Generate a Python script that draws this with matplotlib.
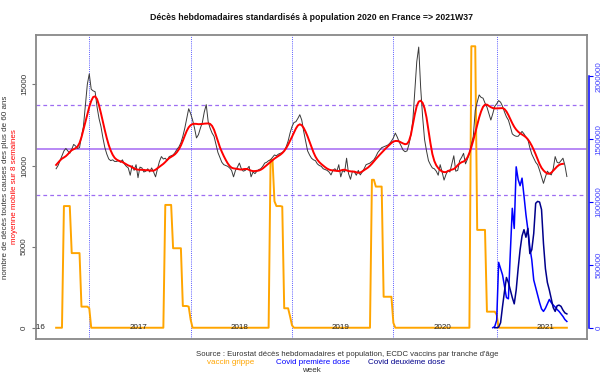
import numpy as np
import matplotlib
matplotlib.use("Agg")
import matplotlib.pyplot as plt
import pandas as pd

plt.rcParams['font.family'] = ['Liberation Sans', 'DejaVu Sans']

# --- DATA (weekly, 2016W36 -> 2021W37) ---
annees = [2016, 2017, 2018, 2019, 2020, 2021]

deces_2016 = [9800, 10000, 10300, 10600, 10900, 11050, 10900, 10750, 11000, 11300,
              11200, 11050, 11100, 11800, 12400, 13700, 15000]
deces_2017 = [15650, 14700, 14600, 14550, 13600, 12900, 12400, 11700, 11100, 10700,
              10400, 10300, 10350, 10250, 10250, 10300, 10200, 10350, 10100, 9950,
              9850, 9400, 10000, 9700, 10050, 9250, 9900, 9850, 9600, 9650,
              9800, 9600, 9850, 9600, 9300, 9800, 10250, 10550, 10400, 10450,
              10300, 10550, 10600, 10650, 10800, 11000, 11150, 11400, 11800, 12300,
              12900, 13500]
deces_2018 = [13200, 12800, 12300, 11700, 11900, 12300, 12650, 13300, 13750, 12700,
              12300, 12000, 11800, 11300, 10800, 10500, 10200, 10050, 10000, 9950,
              9850, 9700, 9300, 9700, 9900, 10150, 9800, 9650, 9700, 9800,
              9950, 9300, 9600, 9500, 9650, 9750, 9800, 9950, 10150, 10200,
              10300, 10350, 10500, 10650, 10600, 10700, 10750, 10800, 10900, 11150,
              11500, 12000]
deces_2019 = [12400, 12650, 12700, 12900, 13130, 12800, 12100, 11500, 10900, 10650,
              10450, 10350, 10300, 10100, 10000, 9950, 9800, 9750, 9700, 9600,
              9420, 9700, 9800, 9650, 10050, 9300, 9700, 9600, 10450, 9500,
              9150, 9650, 9600, 9400, 9700, 9420, 9600, 9800, 10050,
              10100, 10150, 10250, 10350, 10550, 10800, 10950, 11100, 11150, 11200,
              11250, 11350, 11500]
deces_2020 = [11700, 12000, 11750, 11450, 11200, 10950, 10850, 10900, 11300, 11900,
              12800, 14600, 16400, 17300, 14800, 13000, 11600, 10900, 10300, 10050,
              9850, 9800, 9650, 9400, 10050, 9600, 9100, 9450, 9700, 9600,
              10100, 10600, 9650, 9700, 10300, 10500, 10750, 10100, 10400, 10750,
              11300, 11800, 13400, 13900, 14350, 14200, 14150, 13850, 13600, 13200,
              12800, 13200, 13650]
deces_2021 = [13800, 14000, 13900, 13650, 13300, 13000, 12800, 12400, 11950, 11850,
              11800, 11800, 11950, 12100, 11950, 11750, 11600, 11100, 10700, 10450,
              10200, 10050, 9700, 9300, 8900, 9300, 9650, 9500, 9420, 9800,
              10550, 10200, 10150, 10300, 10450, 10000, 9320]

grippe_2016 = [0, 0, 0, 0, 7500, 7500, 7500, 7500, 4600, 4600, 4600, 4600, 4600,
               1300, 1300, 1300, 1300]
grippe_2017 = [1200] + [0] * 38 + [7570] * 4 + [4900] * 5 + [1340, 1340, 1340, 1300]
grippe_2018 = [500] + [0] * 40 + [10350, 10350, 7800, 7500, 7500, 7500, 7470,
                                  1200, 1200, 1200, 700]
grippe_2019 = [150] + [0] * 40 + [9120, 9120, 8700, 8700, 8700, 8700,
                                  1910, 1910, 1910, 1910, 1910]
grippe_2020 = [300] + [0] * 39 + [17350] * 3 + [6030] * 5 + [990] * 5
grippe_2021 = [800] + [0] * 36

# Covid doses (start 2020W52 / 2020W53)
dose1 = [0, 10000, 60000, 520000, 470000, 420000, 330000, 240000, 230000, 600000,
         950000, 790000, 1280000, 1180000, 1130000, 1190000, 1050000, 900000, 780000, 640000,
         540000, 380000, 320000, 260000, 200000, 150000, 130000, 155000, 190000, 225000,
         200000, 180000, 165000, 145000, 130000, 110000, 90000, 65000, 50000]
dose2 = [0, 0, 5000, 40000, 170000, 290000, 400000, 360000, 300000, 240000,
         190000, 300000, 470000, 620000, 730000, 780000, 720000, 790000, 590000, 620000,
         750000, 990000, 1005000, 1000000, 940000, 670000, 470000, 360000, 300000, 230000,
         160000, 130000, 175000, 180000, 170000, 140000, 118000, 110000]

moyenne = 11000
seuil_haut = 13750
seuil_bas = 8200

# --- assemble series ---
deces_par_an = [deces_2016, deces_2017, deces_2018, deces_2019, deces_2020, deces_2021]
deces = np.array(sum(deces_par_an, []), dtype=float)
grippe = np.array(grippe_2016 + grippe_2017 + grippe_2018 + grippe_2019 + grippe_2020 + grippe_2021)
semaine = np.arange(len(deces))
n_sem = [len(d) for d in deces_par_an]
debut = np.concatenate([[0], np.cumsum(n_sem)[:-1]])   # index of W1 of each year
debut[0] = debut[1] - 52
mm8 = (pd.Series(deces).rolling(8, min_periods=1).mean()
       .rolling(3, center=True, min_periods=1).mean().shift(-2))
x_dose1 = semaine[-len(dose1):]
x_dose2 = semaine[-len(dose2):]

# --- figure ---
W, H = 605, 384
fig = plt.figure(figsize=(W / 100, H / 100), dpi=100)
left, right, top, bottom = 35.7, 587.3, 35, 339
ax = fig.add_axes([left / W, 1 - bottom / H, (right - left) / W, (bottom - top) / H])

n = len(deces) - 1
ax.set_xlim(-0.04 * n, n * 1.04)
ymax = max(deces.max(), grippe.max())
ax.set_ylim(-0.04 * ymax, ymax * 1.04)

ax.axhline(moyenne, color='#b888f5', lw=1.4)
ax.axhline(seuil_haut, color='#9d6cf2', lw=0.9, dashes=(3, 2.5))
ax.axhline(seuil_bas, color='#9d6cf2', lw=0.9, dashes=(3, 2.5))
for d in debut[1:]:
    ax.axvline(d, color='#5a5aff', lw=0.7, dashes=(1, 1.2))

ax.plot(semaine, grippe, color='orange', lw=1.4)
ax.plot(semaine, deces, color='#3a3a3a', lw=0.7)
ax.plot(semaine, mm8, color='red', lw=1.4)

for a, d in zip(annees, debut):
    ax.text(d + 25, 0, str(a), ha='center', va='center', fontsize=5.8,
            color='#222222', clip_on=True)

ax.set_xticks([])
ax.set_yticks([0, 5000, 10000, 15000])
ax.set_yticklabels(['0', '5000', '10000', '15000'], rotation=90, va='center')
ax.tick_params(axis='y', length=3, width=0.8, color='#777777', labelsize=5.8,
               labelcolor='#333333', pad=2.5)
for s in ax.spines.values():
    s.set_color('#888888')
    s.set_linewidth(1.3)

ax2 = ax.twinx()
k = 2000000 / 15497
ax2.set_ylim(-0.04 * ymax * k, ymax * 1.04 * k)
ax2.plot(x_dose1, dose1, color='#0000ff', lw=1.1)
ax2.plot(x_dose2, dose2, color='#00008b', lw=1.1)
for s in ['top', 'left', 'bottom']:
    ax2.spines[s].set_visible(False)
ax2.spines['right'].set_bounds(0, 2000000)
ax2.spines['right'].set_position(('outward', 1.5))
ax2.spines['right'].set_color('#0000ff')
ax2.spines['right'].set_linewidth(1.1)
ax2.set_yticks([0, 500000, 1000000, 1500000, 2000000])
ax2.set_yticklabels(['0', '500000', '1000000', '1500000', '2000000'], rotation=90, va='center')
ax2.tick_params(axis='y', length=3, width=0.8, color='#0000ff', labelsize=5.8,
                labelcolor='#4040ff', pad=1.5)

# --- texts ---
fig.text(311 / W, 1 - 18 / H, "Décès hebdomadaires standardisés à population 2020 en France => 2021W37",
         ha='center', va='center', fontsize=6.3, fontweight='bold', color='#111111')
yc = 1 - 187 / H
fig.text(6 / W, yc, "nombre de décès toutes causes des plus de 60 ans", rotation=90,
         ha='center', va='center', fontsize=5.8, color='#333333')
fig.text(15 / W, yc, "moyenne mobile sur 8 semaines", rotation=90,
         ha='center', va='center', fontsize=5.8, color='red')
fig.text(347 / W, 1 - 354 / H,
         "Source : Eurostat décès hebdomadaires et population, ECDC vaccins par tranche d'âge",
         ha='center', va='center', fontsize=5.6, color='#333333')
fig.text(207 / W, 1 - 362.5 / H, "vaccin grippe", ha='left', va='center', fontsize=5.8, color='orange')
fig.text(276.5 / W, 1 - 362.5 / H, "Covid première dose", ha='left', va='center', fontsize=5.8, color='#0000ff')
fig.text(368 / W, 1 - 362.5 / H, "Covid deuxième dose", ha='left', va='center', fontsize=5.8, color='#00008b')
fig.text(311 / W, 1 - 371 / H, "week", ha='center', va='center', fontsize=5.8, color='#333333')

fig.savefig('out.png', dpi=100)
